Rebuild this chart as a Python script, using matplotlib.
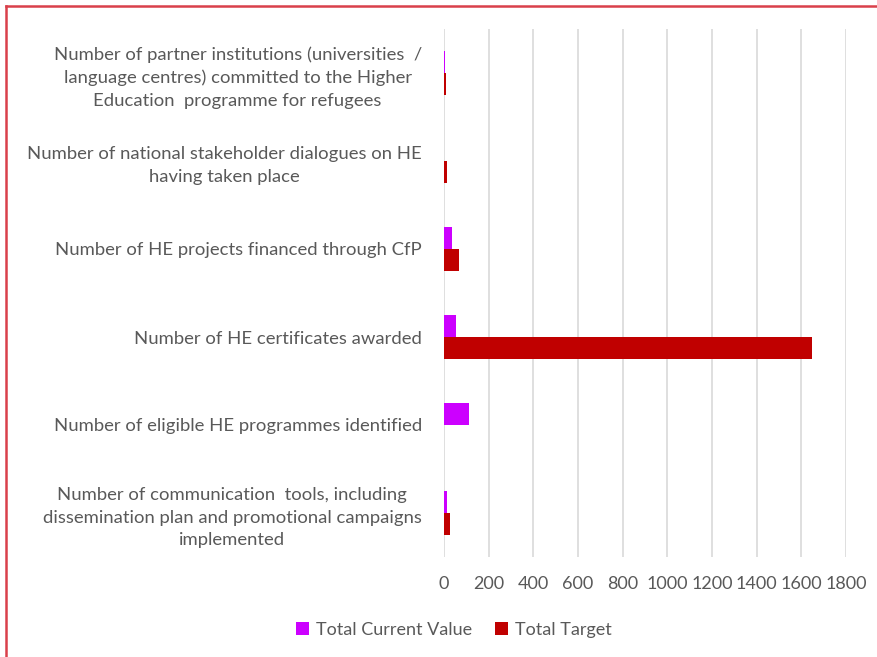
import numpy as np
import matplotlib.pyplot as plt
from matplotlib.lines import Line2D

# categories listed bottom to top, as the chart draws them
categories = [
    "Number of communication  tools, including\ndissemination plan and promotional campaigns\nimplemented",
    "Number of eligible HE programmes identified",
    "Number of HE certificates awarded",
    "Number of HE projects financed through CfP",
    "Number of national stakeholder dialogues on HE\nhaving taken place",
    "Number of partner institutions (universities  /\nlanguage centres) committed to the Higher\nEducation  programme for refugees",
]
current_value = [14, 112, 54, 35, 0, 6]
total_target = [28, 0, 1650, 67, 15, 11]
x_ticks = [0, 200, 400, 600, 800, 1000, 1200, 1400, 1600, 1800]

plt.rcParams['font.family'] = ['Lato', 'DejaVu Sans']
text_color = '#595959'
col_current = '#cc00ff'
col_target = '#c00000'

fig = plt.figure(figsize=(8.78, 6.57), dpi=100)
ax = fig.add_axes([444 / 878, 1 - 557 / 657, (846 - 444) / 878, (557 - 29) / 657])

y = np.arange(len(categories))
h = 0.25
ax.barh(y + h / 2, current_value, height=h, color=col_current, label='Total Current Value')
ax.barh(y - h / 2, total_target, height=h, color=col_target, label='Total Target')

ax.set_xlim(0, 1800)
ax.set_ylim(-0.5, len(categories) - 0.5)
ax.set_xticks(x_ticks)
ax.set_xticklabels([str(t) for t in x_ticks], color=text_color, fontsize=13)
ax.set_yticks(y)
ax.set_yticklabels(categories, color=text_color, fontsize=13.3, ha='right',
                   multialignment='center', linespacing=1.48)
ax.tick_params(axis='y', length=0, pad=16)
ax.tick_params(axis='x', length=0, pad=14)
ax.grid(axis='x', color='#d9d9d9', linewidth=1.2)
ax.set_axisbelow(True)
for s in ax.spines.values():
    s.set_visible(False)

fig.legend(loc='center', bbox_to_anchor=(454 / 878, 1 - 630 / 657), ncol=2,
           frameon=False, fontsize=13, labelcolor=text_color,
           handlelength=0.7, handleheight=0.7, handletextpad=0.4, columnspacing=1.3)

# red frame around the chart area
fig.add_artist(Line2D([6 / 878, 1], [1 - 6 / 657, 1 - 6 / 657], color='#d9404a', lw=1.8))
fig.add_artist(Line2D([6 / 878, 6 / 878], [0, 1 - 6 / 657], color='#d9404a', lw=1.8))

fig.savefig('out.png', dpi=100)
